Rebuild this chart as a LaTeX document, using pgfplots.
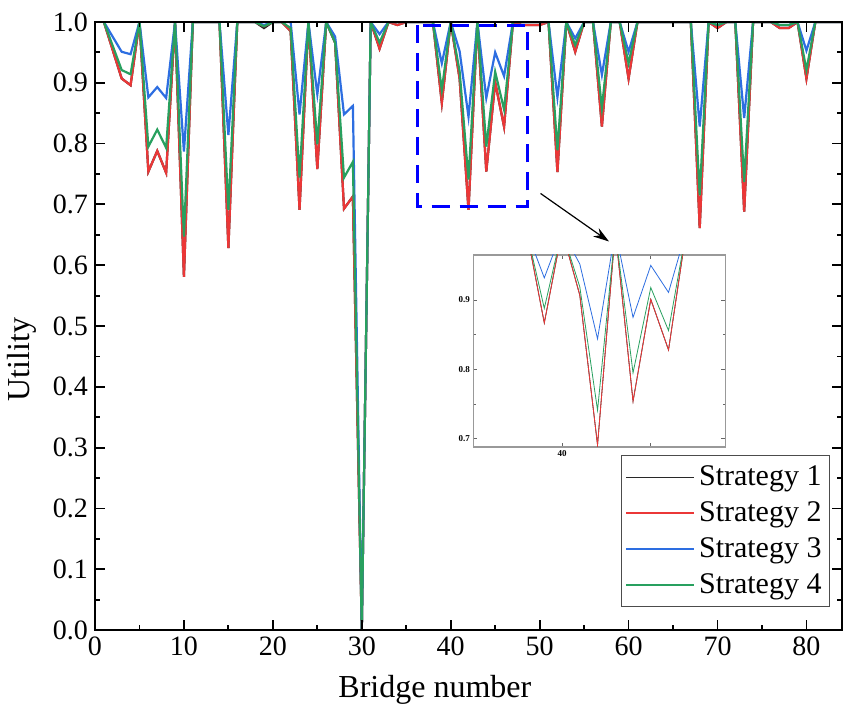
\documentclass[border=0pt]{standalone}
\usepackage{pgfplots}
\pgfplotsset{compat=1.18}
\usepackage{pgfplotstable}
\usepackage{fontspec}
\setmainfont{Liberation Serif}
\usetikzlibrary{arrows.meta}

\definecolor{sone}{RGB}{40,40,40}
\definecolor{stwo}{RGB}{235,55,55}
\definecolor{sthree}{RGB}{45,110,225}
\definecolor{sfour}{RGB}{40,160,95}

% x, strategy 1..4
\pgfplotstableread{
x  s1    s2    s3    s4
1  1     1     1     1
3  0.907 0.907 0.951 0.921
4  0.896 0.896 0.947 0.914
5  1     1     1     1
6  0.754 0.754 0.876 0.795
7  0.788 0.788 0.893 0.823
8  0.752 0.752 0.875 0.793
9  1     1     1     1
10 0.581 0.581 0.787 0.647
11 1     1     1     1
12 1     1     1     1
13 1     1     1     1
14 1     1     1     1
15 0.628 0.628 0.814 0.691
16 1     1     1     1
17 1     1     1     1
18 1     1     1     1
19 0.990 0.993 0.995 0.993
20 1     1     1     1
21 1     1     1     1
22 0.985 0.985 1     0.990
23 0.691 0.691 0.848 0.744
24 1     1     1     1
25 0.758 0.758 0.881 0.799
26 1     1     1     1
27 0.966 0.966 0.976 0.966
28 0.693 0.693 0.848 0.744
29 0.713 0.713 0.862 0.770
30 0     0     0     0
31 1     1     1     1
32 0.956 0.956 0.980 0.966
33 1     1     1     1
34 0.995 0.995 1     1
35 1     1     1     1
36 1     1     1     1
37 1     1     1     1
38 1     1     1     1
39 0.867 0.867 0.932 0.888
40 1     1     1     1
41 0.907 0.907 0.952 0.919
42 0.691 0.691 0.844 0.741
43 1     1     1     1
44 0.754 0.754 0.875 0.795
45 0.901 0.901 0.950 0.918
46 0.828 0.828 0.911 0.856
47 1     1     1     1
48 0.995 0.995 1     1
49 0.995 0.995 1     1
50 0.995 0.995 1     1
51 1     1     1     1
52 0.753 0.753 0.876 0.789
53 1     1     1     1
54 0.951 0.951 0.973 0.962
55 1     1     1     1
56 1     1     1     1
57 0.828 0.828 0.913 0.858
58 1     1     1     1
59 1     1     1     1
60 0.907 0.907 0.951 0.932
61 1     1     1     1
62 1     1     1     1
63 1     1     1     1
64 1     1     1     1
65 1     1     1     1
66 1     1     1     1
67 1     1     1     1
68 0.661 0.661 0.828 0.715
69 1     1     1     1
70 0.990 0.990 0.995 0.995
71 1     1     1     1
72 1     1     1     1
73 0.688 0.688 0.842 0.737
74 1     1     1     1
75 1     1     1     1
76 1     1     1     1
77 0.990 0.990 0.995 0.995
78 0.990 0.990 0.995 0.995
79 1     1     1     1
80 0.907 0.907 0.953 0.921
81 1     1     1     1
82 1     1     1     1
83 1     1     1     1
84 1     1     1     1
}\utility

\begin{document}
\begin{tikzpicture}
\path[use as bounding box] (-47.5pt,-41.5pt) rectangle (375pt,315pt);
\begin{axis}[
  name=main,
  at={(0pt,0pt)}, anchor=south west,
  scale only axis,
  width=373.5pt, height=304pt,
  xmin=0, xmax=84, ymin=0, ymax=1,
  xtick={0,10,...,80}, ytick={0,0.1,...,1.0},
  minor x tick num=1, minor y tick num=1,
  major tick length=5pt, minor tick length=2.5pt,
  tick align=inside,
  axis on top,
  axis line style={line width=1pt},
  every tick/.style={black,line width=0.9pt},
  yticklabel style={/pgf/number format/fixed,/pgf/number format/fixed zerofill,
    /pgf/number format/precision=1},
  /pgf/number format/assume math mode=true,
  tick label style={font=\fontsize{14}{16}\selectfont},
  label style={font=\fontsize{16}{18}\selectfont},
  xlabel={Bridge number}, ylabel={Utility},
  xlabel style={at={(axis description cs:0.455,-0.099)}, anchor=center},
  ylabel style={at={(axis description cs:-0.098,0.445)}, anchor=center},
  legend cell align=left,
  legend style={at={(axis description cs:0.984,0.038)}, anchor=south east,
    draw=black!70, line width=0.5pt, font=\fontsize{15}{17}\selectfont,
    inner xsep=2pt, inner ysep=3pt, row sep=2.5pt},
  legend image code/.code={\draw[#1,line width=0.8pt] (0pt,0pt) -- (34pt,0pt);},
]
\addplot[sone, line width=1.1pt] table[x=x,y=s1] {\utility};
\addlegendentry{Strategy 1}
\addplot[stwo, line width=1.1pt] table[x=x,y=s2] {\utility};
\addlegendentry{Strategy 2}
\addplot[sthree, line width=1.1pt] table[x=x,y=s3] {\utility};
\addlegendentry{Strategy 3}
\addplot[sfour, line width=1.1pt] table[x=x,y=s4] {\utility};
\addlegendentry{Strategy 4}
% zoom window and pointer
\draw[blue, line width=1.5pt, dash pattern=on 9pt off 5pt]
  (axis cs:36.25,0.995) rectangle (axis cs:48.6,0.696);
\draw[black, line width=0.6pt, -{Stealth[length=8pt,width=5pt]}]
  (axis cs:50.1,0.718) -- (axis cs:57.8,0.639);
\coordinate (insetSW) at (axis cs:42.54,0.301);
\end{axis}

\begin{axis}[
  at={(insetSW)}, anchor=south west,
  scale only axis,
  width=126pt, height=96pt,
  xmin=35, xmax=49.2, ymin=0.688, ymax=0.965,
  xtick={40,45}, xticklabels={40,{}},
  ytick={0.7,0.8,0.9}, minor y tick num=1,
  yticklabel style={/pgf/number format/fixed,/pgf/number format/fixed zerofill,
    /pgf/number format/precision=1},
  /pgf/number format/assume math mode=true,
  tick label style={font=\fontsize{4.5}{5}\selectfont\bfseries, inner sep=1.5pt},
  major tick length=2pt, minor tick length=1.2pt,
  tick align=inside,
  axis line style={gray!80, line width=0.6pt},
  every tick/.style={gray!80!black, line width=0.4pt},
  axis background/.style={fill=white},
]
\addplot[sone, line width=0.4pt] table[x=x,y=s1] {\utility};
\addplot[stwo, line width=0.4pt] table[x=x,y=s2] {\utility};
\addplot[sthree, line width=0.4pt] table[x=x,y=s3] {\utility};
\addplot[sfour, line width=0.4pt] table[x=x,y=s4] {\utility};
\end{axis}
\end{tikzpicture}
\end{document}
